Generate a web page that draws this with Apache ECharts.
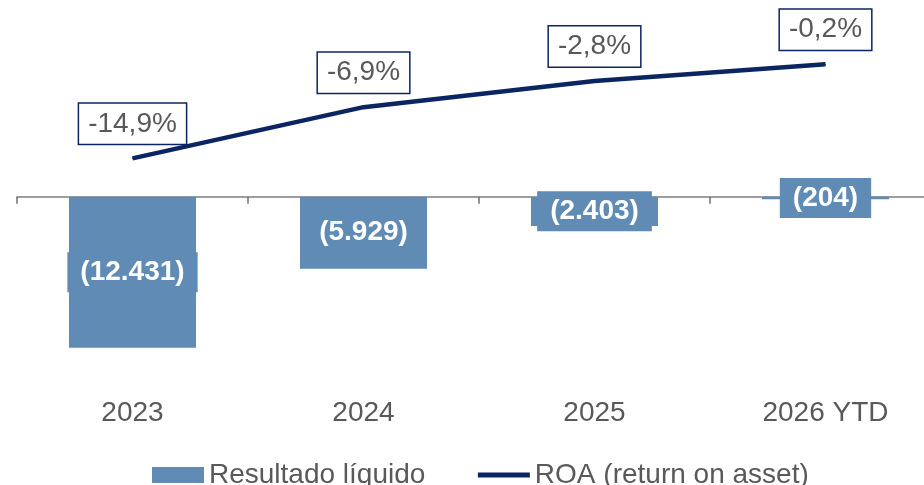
<!DOCTYPE html>
<html>
<head>
<meta charset="utf-8">
<script src="https://cdn.jsdelivr.net/npm/echarts@6/dist/echarts.min.js"></script>
<style>
  html, body { margin: 0; padding: 0; background: #fff; }
  #chart { width: 924px; height: 485px; }
</style>
</head>
<body>
<div id="chart"></div>
<script>
// dados
const categories = ['2023', '2024', '2025', '2026 YTD']
const resultado = [-12431, -5929, -2403, -204]
const roa = [-14.9, -6.9, -2.8, -0.2]

const barColor = '#5f8bb5'
const lineColor = '#0b2462'
const textGray = '#595959'
const font = '"Liberation Sans", Arial, sans-serif'

// (12.431) com separador de milhar
function fmtMil (v) {
  const s = String(Math.abs(v)).replace(/\B(?=(\d{3})+(?!\d))/g, '.')
  return v < 0 ? '(' + s + ')' : s
}

const chart = echarts.init(document.getElementById('chart'))
chart.setOption({
  animation: false,
  textStyle: { fontFamily: font },
  grid: { left: 17, width: 924, top: 51, height: 340, containLabel: false, outerBoundsMode: 'none' },
  legend: {
    left: 147,
    top: 456,
    itemWidth: 52,
    itemHeight: 16,
    itemGap: 50,
    textStyle: { color: textGray, fontSize: 28, fontFamily: font },
    data: [
      { name: 'Resultado líquido', icon: 'rect' },
      { name: 'ROA (return on asset)', itemStyle: { opacity: 0 }, lineStyle: { width: 5, color: lineColor } }
    ]
  },
  xAxis: {
    type: 'category',
    data: categories,
    axisLine: { onZero: true, lineStyle: { color: '#7f7f7f', width: 1.5 } },
    axisTick: { show: true, length: 7, lineStyle: { color: '#6f6f6f', width: 1.5 } },
    axisLabel: { margin: 8, color: textGray, fontSize: 28, fontFamily: font }
  },
  yAxis: [
    { type: 'value', min: -16000, max: 12000, show: false, splitLine: { show: false } },
    { type: 'value', min: -51.25, max: 1.875, show: false, splitLine: { show: false } }
  ],
  series: [
    {
      name: 'Resultado líquido',
      type: 'bar',
      data: resultado,
      barWidth: '55%',
      itemStyle: { color: barColor },
      label: {
        show: true,
        position: 'inside',
        color: '#fff',
        fontWeight: 'bold',
        fontSize: 28,
        fontFamily: font,
        backgroundColor: barColor,
        padding: [6, 13],
        formatter: p => fmtMil(p.value)
      },
      z: 2
    },
    {
      name: 'ROA (return on asset)',
      type: 'line',
      yAxisIndex: 1,
      data: roa,
      symbol: 'circle',
      symbolSize: 1,
      showSymbol: true,
      lineStyle: { color: lineColor, width: 4.5 },
      itemStyle: { color: lineColor },
      label: {
        show: true,
        position: 'top',
        distance: 14,
        color: textGray,
        fontSize: 28,
        fontFamily: font,
        backgroundColor: '#fff',
        borderColor: lineColor,
        borderWidth: 1.5,
        padding: [6, 9],
        formatter: p => p.value.toFixed(1).replace('.', ',') + '%'
      },
      z: 3
    }
  ]
})
</script>
</body>
</html>
